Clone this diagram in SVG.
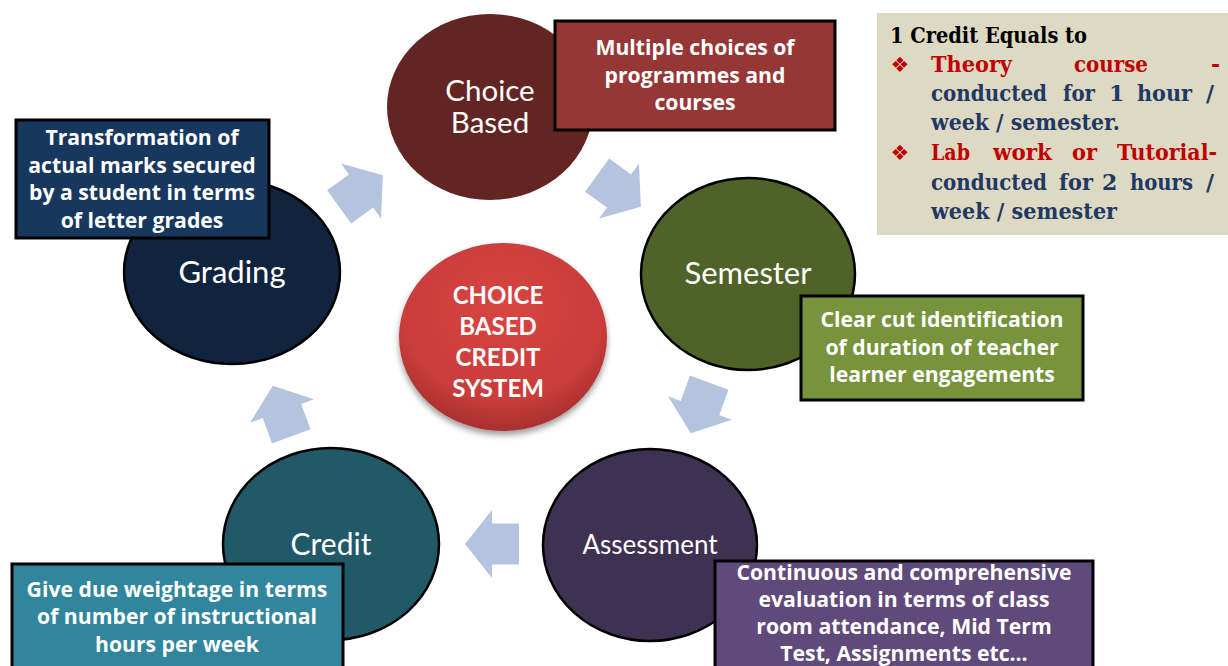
<svg xmlns="http://www.w3.org/2000/svg" width="1228" height="666" viewBox="0 0 1228 666">
<defs>
  <style>
    .lbl{font-family:Lato,"Liberation Sans",sans-serif;fill:#fff;text-anchor:middle}
    .box{stroke:#000;stroke-width:3}
    .bt{font-family:"Open Sans","Liberation Sans",sans-serif;font-weight:bold;font-size:21.2px;fill:#fff;text-anchor:middle}
    .ring{stroke:#000;stroke-width:2.5}
    .arr{fill:#b4c3de}
    .ser{font-family:"DejaVu Serif","Liberation Serif",serif;font-weight:bold;font-size:22px}
    .red{fill:#c00000}
    .navy{fill:#1f3864}
    .bul{font-family:"DejaVu Sans",sans-serif;font-size:21px;fill:#c00000;text-anchor:middle}
  </style>
  <polygon id="blk" points="-27,-20.5 0,-20.5 0,-34 27,0 0,34 0,20.5 -27,20.5"/>
  <radialGradient id="redg" cx="0.5" cy="0.35" r="0.65">
    <stop offset="0" stop-color="#d94542"/>
    <stop offset="0.75" stop-color="#c93c3a"/>
    <stop offset="1" stop-color="#a8302e"/>
  </radialGradient>
  <filter id="sh" x="-20%" y="-20%" width="140%" height="150%">
    <feGaussianBlur in="SourceAlpha" stdDeviation="3"/>
    <feOffset dx="0" dy="4" result="b"/>
    <feComponentTransfer><feFuncA type="linear" slope="0.4"/></feComponentTransfer>
    <feMerge><feMergeNode/><feMergeNode in="SourceGraphic"/></feMerge>
  </filter>
</defs>
<rect width="1228" height="666" fill="#fff"/>

<g id="connectors" class="arr">
  <use href="#blk" transform="translate(361,191) rotate(-36)"/>
  <use href="#blk" transform="translate(619,191) rotate(36)"/>
  <use href="#blk" transform="translate(700,408) rotate(110)"/>
  <use href="#blk" transform="translate(492,544) rotate(180)"/>
  <use href="#blk" transform="translate(282,411) rotate(-110)"/>
</g>

<g id="center">
  <ellipse cx="503" cy="337" rx="104" ry="94" fill="url(#redg)" filter="url(#sh)"/>
  <text class="lbl" font-weight="bold" font-size="24" x="498" y="304">CHOICE</text>
  <text class="lbl" font-weight="bold" font-size="24" x="498" y="335">BASED</text>
  <text class="lbl" font-weight="bold" font-size="24" x="498" y="366">CREDIT</text>
  <text class="lbl" font-weight="bold" font-size="24" x="498" y="397">SYSTEM</text>
</g>

<g id="choice">
  <ellipse cx="490" cy="107" rx="103" ry="93" fill="#632523"/>
  <text class="lbl" font-size="29.5" x="490" y="101">Choice</text>
  <text class="lbl" font-size="29.5" x="490" y="133">Based</text>
  <rect class="box" x="555" y="21" width="280" height="109" fill="#953735"/>
  <text class="bt" x="695" y="55">Multiple choices of</text>
  <text class="bt" x="695" y="83">programmes and</text>
  <text class="bt" x="695" y="110">courses</text>
</g>

<g id="semester">
  <ellipse class="ring" cx="748" cy="274" rx="107" ry="96" fill="#4f6228"/>
  <text class="lbl" font-size="31" x="748" y="284">Semester</text>
  <rect class="box" x="801" y="296" width="282" height="104" fill="#77933c"/>
  <text class="bt" x="942" y="327">Clear cut identification</text>
  <text class="bt" x="942" y="355">of duration of teacher</text>
  <text class="bt" x="942" y="382">learner engagements</text>
</g>

<g id="assessment">
  <ellipse class="ring" cx="650" cy="545" rx="107" ry="96" fill="#3f3151"/>
  <text class="lbl" font-size="26" x="650" y="554">Assessment</text>
  <rect class="box" x="715" y="561" width="378" height="112" fill="#604a7b"/>
  <text class="bt" x="904" y="580">Continuous and comprehensive</text>
  <text class="bt" x="904" y="607">evaluation in terms of class</text>
  <text class="bt" x="904" y="634">room attendance, Mid Term</text>
  <text class="bt" x="904" y="661">Test, Assignments etc...</text>
</g>

<g id="credit">
  <ellipse class="ring" cx="331" cy="544" rx="108" ry="96" fill="#215968"/>
  <text class="lbl" font-size="30" x="331" y="555">Credit</text>
  <rect class="box" x="12" y="564" width="331" height="110" fill="#31859c"/>
  <text class="bt" x="177" y="597">Give due weightage in terms</text>
  <text class="bt" x="177" y="624">of number of instructional</text>
  <text class="bt" x="177" y="652">hours per week</text>
</g>

<g id="grading">
  <ellipse class="ring" cx="232" cy="272" rx="108" ry="92" fill="#10243f"/>
  <text class="lbl" font-size="31" x="232" y="283">Grading</text>
  <rect class="box" x="16" y="120" width="253" height="118" fill="#17375e"/>
  <text class="bt" x="142" y="145">Transformation of</text>
  <text class="bt" x="142" y="173">actual marks secured</text>
  <text class="bt" x="142" y="200">by a student in terms</text>
  <text class="bt" x="142" y="228">of letter grades</text>
</g>

<g id="credit-note">
  <rect x="877" y="13" width="351" height="222" fill="#ddd9c3"/>
  <text class="ser" x="890" y="43" fill="#000" textLength="197" lengthAdjust="spacingAndGlyphs">1 Credit Equals to</text>
  <text class="bul" x="900" y="72">❖</text>
  <text class="ser red" x="931" y="72" textLength="81" lengthAdjust="spacingAndGlyphs">Theory</text>
  <text class="ser red" x="1074" y="72" textLength="74" lengthAdjust="spacingAndGlyphs">course</text>
  <text class="ser red" x="1211" y="72">-</text>
  <text class="ser navy" x="931" y="101" textLength="116" lengthAdjust="spacingAndGlyphs">conducted</text>
  <text class="ser navy" x="1063" y="101" textLength="32" lengthAdjust="spacingAndGlyphs">for</text>
  <text class="ser navy" x="1109" y="101">1</text>
  <text class="ser navy" x="1137" y="101" textLength="55" lengthAdjust="spacingAndGlyphs">hour</text>
  <text class="ser navy" x="1206" y="101">/</text>
  <text class="ser navy" x="931" y="130" textLength="189" lengthAdjust="spacingAndGlyphs">week / semester.</text>
  <text class="bul" x="900" y="160">❖</text>
  <text class="ser red" x="931" y="160" textLength="39" lengthAdjust="spacingAndGlyphs">Lab</text>
  <text class="ser red" x="993" y="160" textLength="59" lengthAdjust="spacingAndGlyphs">work</text>
  <text class="ser red" x="1072" y="160" textLength="25" lengthAdjust="spacingAndGlyphs">or</text>
  <text class="ser red" x="1117" y="160" textLength="100" lengthAdjust="spacingAndGlyphs">Tutorial-</text>
  <text class="ser navy" x="931" y="190" textLength="116" lengthAdjust="spacingAndGlyphs">conducted</text>
  <text class="ser navy" x="1059" y="190" textLength="34" lengthAdjust="spacingAndGlyphs">for</text>
  <text class="ser navy" x="1102" y="190">2</text>
  <text class="ser navy" x="1130" y="190" textLength="63" lengthAdjust="spacingAndGlyphs">hours</text>
  <text class="ser navy" x="1206" y="190">/</text>
  <text class="ser navy" x="931" y="219" textLength="186" lengthAdjust="spacingAndGlyphs">week / semester</text>
</g>
</svg>
